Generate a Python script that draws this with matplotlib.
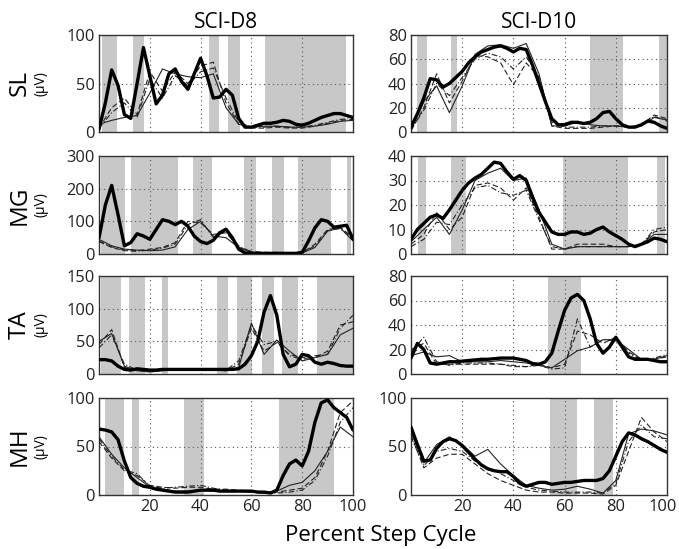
import numpy as np
import matplotlib
matplotlib.use("Agg")
import matplotlib.pyplot as plt
from matplotlib.transforms import ScaledTranslation

plt.rcParams['font.family'] = ['Open Sans', 'DejaVu Sans']

# step-cycle positions (%)
x_fine = np.arange(0, 100.01, 2.5)
x_coarse = np.arange(0, 100.01, 5)

subjects = ["SCI-D8", "SCI-D10"]
muscles = ["SL", "MG", "TA", "MH"]

# ---- SL ----
sl_d8_shade = [(1.3, 7.2), (13.3, 17.6), (43.5, 47.3), (50.6, 55.5), (65.5, 97.2)]
sl_d8_thick = [3, 30, 64, 48, 18, 14, 50, 87, 58, 29, 38, 60, 65, 52, 44, 60, 76, 58, 35, 36, 44,
               38, 14, 5, 5, 7, 9, 9, 10, 12, 11, 8, 7, 9, 12, 15, 17, 19, 19, 17, 15]
sl_d8_thin = [8, 12, 15, 17, 40, 65, 60, 57, 56, 60, 25, 8, 5, 6, 6, 5, 5, 6, 8, 11, 12]
sl_d8_dash = [4, 25, 35, 18, 62, 42, 62, 50, 68, 72, 30, 8, 4, 4, 5, 4, 4, 6, 9, 12, 13]
sl_d8_dashdot = [4, 20, 30, 15, 55, 35, 58, 48, 62, 66, 35, 10, 5, 5, 6, 5, 5, 7, 10, 13, 14]

sl_d10_shade = [(2.5, 6.1), (15.6, 17.9), (70.0, 83.0), (96.9, 100)]
sl_d10_thick = [4, 15, 28, 44, 43, 37, 40, 45, 50, 57, 62, 66, 68, 70, 71, 69, 66, 69, 68, 55, 40,
                25, 11, 6, 6, 8, 8, 7, 8, 11, 16, 17, 11, 6, 4, 4, 6, 9, 8, 5, 3]
sl_d10_thin = [3, 25, 38, 16, 38, 64, 71, 72, 69, 73, 48, 5, 5, 8, 6, 5, 5, 4, 5, 12, 10]
sl_d10_dash = [1, 20, 48, 24, 42, 63, 62, 57, 39, 57, 45, 5, 3, 3, 3, 4, 5, 4, 6, 14, 11]
sl_d10_dashdot = [2, 18, 40, 30, 45, 60, 65, 62, 52, 62, 46, 8, 4, 4, 4, 5, 5, 4, 6, 13, 9]

# ---- MG ----
mg_d8_shade = [(0.6, 10.2), (12.7, 31.0), (37.2, 44.4), (57.1, 62.0), (68.2, 73.0),
               (78.5, 91.3), (97.5, 99.2)]
mg_d8_thick = [49, 150, 210, 120, 25, 35, 62, 55, 45, 75, 105, 100, 90, 100, 85, 55, 38, 32, 42, 65, 76,
               50, 15, 3, 2, 2, 2, 2, 2, 2, 2, 2, 5, 40, 80, 105, 100, 82, 85, 88, 46]
mg_d8_thin = [45, 25, 15, 12, 10, 12, 22, 75, 100, 55, 50, 20, 5, 3, 3, 3, 3, 20, 70, 80, 40]
mg_d8_dash = [38, 20, 10, 10, 15, 20, 35, 100, 95, 60, 65, 20, 8, 5, 5, 4, 4, 30, 75, 82, 50]
mg_d8_dashdot = [40, 22, 12, 8, 12, 18, 30, 90, 105, 50, 70, 25, 6, 4, 4, 4, 3, 25, 72, 78, 45]

mg_d10_shade = [(2.7, 5.7), (15.7, 21.6), (59.3, 84.7), (96.0, 99.2)]
mg_d10_thick = [6, 10, 12.5, 15, 16, 14.5, 18, 22, 26, 29, 31, 32.5, 35, 37.5, 37, 33.5, 30.5, 32, 30, 23,
                17, 13, 9, 8, 8, 9, 9, 8, 8.5, 10, 11, 9, 7.5, 6, 4, 3, 4, 5, 6.5, 6, 5]
mg_d10_thin = [5, 10, 15, 8, 18, 30, 33, 35, 30, 31, 18, 4, 2, 3, 3, 3, 3, 3, 4, 8, 8]
mg_d10_dash = [4, 8, 17, 10, 15, 28, 29, 27, 22, 27, 15, 2, 2, 4, 4, 4, 3, 3, 4, 9, 10]
mg_d10_dashdot = [3, 6, 13, 12, 20, 27, 28, 25, 24, 26, 14, 3, 2, 3, 3, 3, 3, 3, 4, 10, 11]

# ---- TA ----
ta_d8_shade = [(0.9, 8.5), (12.0, 18.3), (24.9, 27.2), (46.4, 50.8), (54.3, 60.3),
               (64.1, 69.0), (71.9, 78.5), (86.0, 100)]
ta_d8_thick = [22, 22, 20, 12, 7, 6, 8, 7, 6, 6, 7, 7, 7, 7, 7, 7, 7, 7, 7, 7, 7,
               7, 8, 15, 28, 50, 95, 120, 90, 30, 11, 15, 30, 28, 18, 15, 18, 16, 13, 12, 12]
ta_d8_thin = [50, 62, 12, 5, 3, 5, 6, 6, 6, 6, 5, 10, 78, 30, 52, 35, 20, 25, 30, 60, 70]
ta_d8_dash = [45, 68, 10, 6, 5, 6, 6, 7, 7, 6, 5, 15, 70, 35, 48, 30, 25, 25, 35, 75, 80]
ta_d8_dashdot = [40, 60, 15, 6, 4, 6, 7, 6, 6, 6, 6, 20, 75, 45, 50, 28, 22, 28, 30, 70, 90]

ta_d10_shade = [(53.6, 66.3)]
ta_d10_thick = [13, 25, 20, 9, 8, 9, 10, 10, 10.5, 11, 11.5, 12, 12, 12.5, 13, 13, 13, 12, 11, 8.5,
                8, 10, 17, 35, 52, 62, 65, 60, 45, 25, 17, 22, 30, 22, 14, 12, 12, 12, 11, 10, 10]
ta_d10_thin = [15, 18, 14, 15, 10, 10, 10, 11, 10, 9, 7, 5, 12, 19, 22, 28, 28, 20, 12, 12, 15]
ta_d10_dash = [20, 25, 8, 8, 8, 8, 8, 8, 6, 6, 8, 5, 8, 35, 32, 25, 30, 18, 12, 12, 14]
ta_d10_dashdot = [18, 30, 10, 7, 9, 9, 9, 8, 7, 6, 7, 4, 5, 45, 22, 28, 27, 17, 11, 13, 16]

# ---- MH ----
mh_d8_shade = [(2.3, 9.8), (12.9, 15.6), (33.6, 41.3), (70.8, 92.5)]
mh_d8_thick = [68, 67, 65, 57, 35, 18, 12, 9, 8, 6, 5, 4, 3, 3, 3, 4, 5, 5, 5, 4, 4,
               4, 4, 4, 4, 3, 3, 2, 5, 20, 32, 36, 30, 45, 75, 95, 98, 90, 85, 80, 67]
mh_d8_thin = [60, 42, 28, 18, 8, 6, 4, 4, 5, 4, 4, 4, 3, 2, 4, 10, 13, 25, 45, 70, 60]
mh_d8_dash = [55, 38, 25, 20, 10, 8, 7, 8, 8, 6, 6, 5, 4, 3, 3, 5, 7, 18, 45, 85, 97]
mh_d8_dashdot = [58, 40, 26, 22, 9, 7, 8, 9, 10, 7, 5, 4, 3, 2, 2, 3, 5, 15, 40, 75, 90]

mh_d10_shade = [(54.2, 64.8), (71.3, 79.1)]
mh_d10_thick = [70, 52, 35, 36, 48, 55, 58, 56, 51, 44, 37, 31, 27, 25, 24, 24, 19, 12, 9, 11, 13,
                13, 11, 12, 13, 13, 14, 15, 15, 15, 17, 25, 40, 55, 64, 62, 58, 55, 51, 47, 44]
mh_d10_thin = [65, 33, 52, 60, 52, 40, 47, 32, 20, 10, 7, 5, 6, 9, 6, 2, 15, 63, 68, 66, 62]
mh_d10_dash = [62, 28, 38, 42, 42, 32, 22, 15, 10, 5, 3, 3, 2, 2, 2, 1, 10, 45, 80, 65, 55]
mh_d10_dashdot = [60, 30, 45, 48, 45, 35, 28, 22, 15, 8, 5, 4, 3, 3, 3, 2, 12, 55, 72, 60, 58]

# y-axis ranges (max, step) per muscle for each subject
ylims_d8 = [(100, 50), (300, 100), (150, 50), (100, 50)]
ylims_d10 = [(80, 20), (40, 10), (80, 20), (100, 50)]

panels = [
    [(sl_d8_shade, sl_d8_thick, sl_d8_thin, sl_d8_dash, sl_d8_dashdot),
     (sl_d10_shade, sl_d10_thick, sl_d10_thin, sl_d10_dash, sl_d10_dashdot)],
    [(mg_d8_shade, mg_d8_thick, mg_d8_thin, mg_d8_dash, mg_d8_dashdot),
     (mg_d10_shade, mg_d10_thick, mg_d10_thin, mg_d10_dash, mg_d10_dashdot)],
    [(ta_d8_shade, ta_d8_thick, ta_d8_thin, ta_d8_dash, ta_d8_dashdot),
     (ta_d10_shade, ta_d10_thick, ta_d10_thin, ta_d10_dash, ta_d10_dashdot)],
    [(mh_d8_shade, mh_d8_thick, mh_d8_thin, mh_d8_dash, mh_d8_dashdot),
     (mh_d10_shade, mh_d10_thick, mh_d10_thin, mh_d10_dash, mh_d10_dashdot)],
]


def drawPanel(ax, shade, thick, thin, dash, dashdot, ymax, ystep, bottom_row):
    for a, b in shade:
        ax.axvspan(a, b, color='#c8c8c8', lw=0, zorder=0)
    ax.plot(x_coarse, thin, color='#222222', lw=0.8, zorder=3)
    ax.plot(x_coarse, dash, color='#222222', lw=0.8, ls=(0, (5, 2.5)), zorder=3)
    ax.plot(x_coarse, dashdot, color='#222222', lw=0.8, ls=(0, (5, 2, 1, 2)), zorder=3)
    ax.plot(x_fine, thick, color='black', lw=2.4, zorder=4, solid_capstyle='round')

    ax.set_xlim(0, 100)
    ax.set_ylim(0, ymax)
    ax.set_yticks(np.arange(0, ymax + 0.1, ystep))
    ax.set_xticks([20, 40, 60, 80, 100])
    for gx in [20, 40, 60, 80]:
        ax.axvline(gx, color='#555555', lw=0.8, ls=(0, (1, 3)), zorder=1)
    for gy in np.arange(ystep, ymax - 0.1, ystep):
        ax.axhline(gy, color='#555555', lw=0.8, ls=(0, (1, 3)), zorder=1)
    ax.tick_params(length=0, labelsize=11.8, pad=3, colors='#222222')
    if not bottom_row:
        ax.set_xticklabels([])
    for s in ax.spines.values():
        s.set_color('#333333')
        s.set_linewidth(1.0)


if __name__ == "__main__":
    fig = plt.figure(figsize=(6.79, 5.49), dpi=100)

    W, H = 679.0, 549.0
    col_left = [99, 411]
    col_width = [254, 256]
    row_top = [35, 156, 276, 398]
    row_bottom = [132, 254, 374, 495]

    for r in range(4):
        for c in range(2):
            x0 = col_left[c] / W
            y0 = (H - row_bottom[r]) / H
            ax = fig.add_axes([x0, y0, col_width[c] / W, (row_bottom[r] - row_top[r]) / H])
            ymax, ystep = (ylims_d8 if c == 0 else ylims_d10)[r]
            drawPanel(ax, *panels[r][c], ymax, ystep, r == 3)
            if r == 0:
                ax.set_title(subjects[c], fontsize=15, pad=5)
            if c == 0:
                yc = (row_top[r] + row_bottom[r]) / 2.0
                fig.text(20 / W, 1 - yc / H, muscles[r], rotation=90, fontsize=17.5,
                         ha='center', va='center')
                fig.text(41 / W, 1 - yc / H, "(\u03bcV)", rotation=90, fontsize=10,
                         ha='center', va='center')
            if r == 3 and c == 1:
                # keep the last "100" inside the figure edge
                last = ax.get_xticklabels()[-1]
                last.set_transform(last.get_transform() +
                                   ScaledTranslation(-4 / 100.0, 0, fig.dpi_scale_trans))

    fig.text(381 / W, 1 - 541 / H, "Percent Step Cycle", fontsize=16, ha='center', va='baseline')

    fig.savefig("out.png", dpi=100)
